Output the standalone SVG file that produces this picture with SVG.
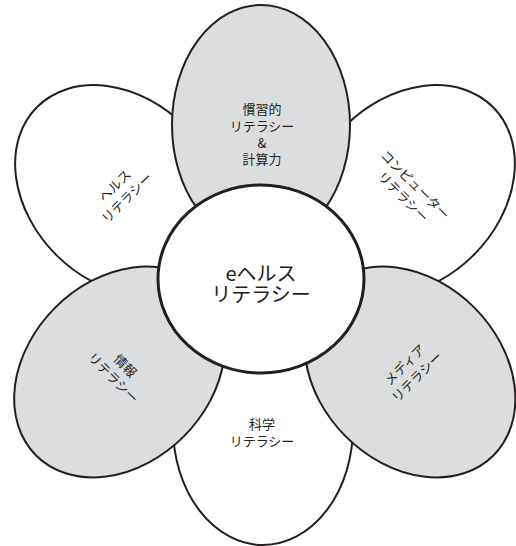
<svg xmlns="http://www.w3.org/2000/svg" width="516" height="546" viewBox="0 0 516 546">
<style>
.bg{fill:#ffffff}
.petal{stroke:#231f20;stroke-width:2}
.w{fill:#ffffff}
.g{fill:#dcdddf}
.hub{fill:#ffffff;stroke:#231f20;stroke-width:3}
.lbl{font-family:"Noto Sans CJK JP","Noto Sans",sans-serif;font-size:13px;fill:#231f20;text-anchor:middle}
.big{font-family:"Noto Sans CJK JP","Noto Sans",sans-serif;font-size:20px;fill:#231f20;text-anchor:middle}
</style>
<rect class="bg" x="0" y="0" width="516" height="546"/>
<g id="connectors"></g>
<g id="health-literacy">
<ellipse class="petal w" cx="0" cy="0" rx="118" ry="91" transform="translate(120.5,190.5) rotate(45)"/>
<text class="lbl" transform="translate(121,192) rotate(-45)"><tspan x="0" y="-4">ヘルス</tspan><tspan x="0" y="13">リテラシー</tspan></text>
</g>
<g id="computer-literacy">
<ellipse class="petal w" cx="0" cy="0" rx="118" ry="91" transform="translate(409.5,190.5) rotate(-45)"/>
<text class="lbl" transform="translate(409,191) rotate(45)"><tspan x="0" y="-4">コンピューター</tspan><tspan x="0" y="13">リテラシー</tspan></text>
</g>
<g id="science-literacy">
<ellipse class="petal w" cx="263" cy="427" rx="90" ry="118"/>
<text class="lbl"><tspan x="262" y="429">科学</tspan><tspan x="262" y="446">リテラシー</tspan></text>
</g>
<g id="traditional-literacy">
<ellipse class="petal g" cx="261" cy="125" rx="89" ry="120"/>
<text class="lbl"><tspan x="262" y="114">慣習的</tspan><tspan x="262" y="131">リテラシー</tspan><tspan x="262" y="147.5">&amp;</tspan><tspan x="262" y="164">計算力</tspan></text>
</g>
<g id="information-literacy">
<ellipse class="petal g" cx="0" cy="0" rx="118" ry="91" transform="translate(119.5,372) rotate(-45)"/>
<text class="lbl" transform="translate(119,372) rotate(45)"><tspan x="0" y="-4">情報</tspan><tspan x="0" y="13">リテラシー</tspan></text>
</g>
<g id="media-literacy">
<ellipse class="petal g" cx="0" cy="0" rx="118" ry="91" transform="translate(410,372) rotate(45)"/>
<text class="lbl" transform="translate(411,371) rotate(-45)"><tspan x="0" y="-4">メディア</tspan><tspan x="0" y="13">リテラシー</tspan></text>
</g>
<g id="ehealth-literacy">
<ellipse class="hub" cx="261" cy="279" rx="103" ry="94"/>
<text class="big"><tspan x="261" y="281">eヘルス</tspan><tspan x="261" y="302">リテラシー</tspan></text>
</g>
</svg>
